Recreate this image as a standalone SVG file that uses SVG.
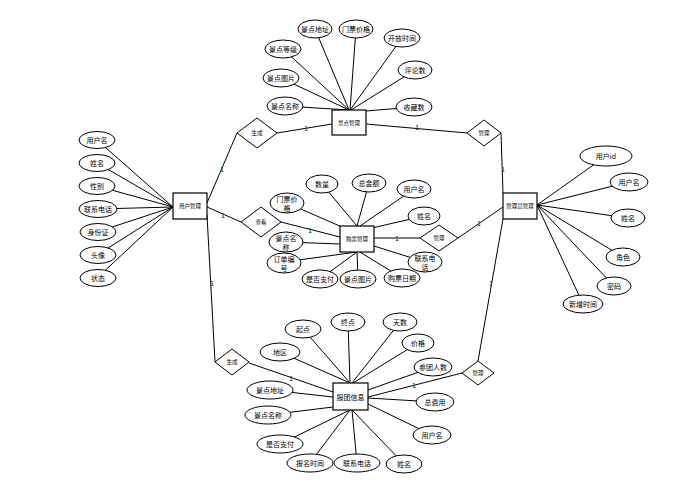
<svg xmlns="http://www.w3.org/2000/svg" width="698" height="486" viewBox="0 0 698 486">
<style>
.c line{stroke:#000;stroke-width:1;fill:none}
.e{fill:#fff;stroke:#000;stroke-width:1}
.r{fill:#fff;stroke:#000;stroke-width:1.2}
.d{fill:#fff;stroke:#000;stroke-width:1}
text{font-family:"Noto Sans CJK SC","Noto Sans",sans-serif;fill:#000;text-anchor:middle;dominant-baseline:central}
.t{font-size:7px}
.s{font-size:5.5px}
.m{font-size:6px;fill:#1f5a48;font-weight:bold}
</style>
<rect width="698" height="486" fill="#fff"/>
<g class="c" id="connectors">
<line x1="285" y1="106" x2="349" y2="110"/>
<line x1="281" y1="78" x2="349" y2="110"/>
<line x1="283" y1="49" x2="349" y2="110"/>
<line x1="315" y1="29" x2="349" y2="110"/>
<line x1="356" y1="29" x2="350" y2="110"/>
<line x1="402" y1="38" x2="350" y2="110"/>
<line x1="415" y1="70" x2="351" y2="110"/>
<line x1="414" y1="107" x2="366" y2="111"/>
<line x1="97" y1="140" x2="173" y2="207"/>
<line x1="97" y1="163" x2="173" y2="207"/>
<line x1="97" y1="186" x2="173" y2="207"/>
<line x1="97" y1="209" x2="173" y2="207"/>
<line x1="97" y1="232" x2="173" y2="207"/>
<line x1="97" y1="255" x2="173" y2="207"/>
<line x1="97" y1="278" x2="173" y2="207"/>
<line x1="537" y1="205" x2="606" y2="156"/>
<line x1="537" y1="205" x2="629" y2="182"/>
<line x1="537" y1="205" x2="628" y2="218"/>
<line x1="537" y1="205" x2="623" y2="257"/>
<line x1="537" y1="205" x2="614" y2="286"/>
<line x1="537" y1="205" x2="583" y2="304"/>
<line x1="322" y1="184" x2="357" y2="226"/>
<line x1="369" y1="183" x2="357" y2="226"/>
<line x1="414" y1="189" x2="360" y2="226"/>
<line x1="287" y1="203" x2="342" y2="227"/>
<line x1="424" y1="216" x2="372" y2="228"/>
<line x1="286" y1="242" x2="340" y2="244"/>
<line x1="284" y1="262" x2="357" y2="252"/>
<line x1="320" y1="279" x2="357" y2="252"/>
<line x1="358" y1="279" x2="357" y2="252"/>
<line x1="402" y1="278" x2="360" y2="252"/>
<line x1="425" y1="262" x2="374" y2="246"/>
<line x1="280" y1="352" x2="350" y2="383"/>
<line x1="303" y1="329" x2="350" y2="383"/>
<line x1="348" y1="322" x2="350" y2="383"/>
<line x1="400" y1="322" x2="352" y2="383"/>
<line x1="418" y1="343" x2="353" y2="383"/>
<line x1="433" y1="367" x2="368" y2="390"/>
<line x1="435" y1="402" x2="368" y2="398"/>
<line x1="432" y1="435" x2="368" y2="404"/>
<line x1="404" y1="464" x2="352" y2="410"/>
<line x1="357" y1="463" x2="352" y2="410"/>
<line x1="310" y1="463" x2="350" y2="410"/>
<line x1="280" y1="444" x2="350" y2="410"/>
<line x1="268" y1="415" x2="333" y2="407"/>
<line x1="270" y1="390" x2="333" y2="397"/>
<line x1="207" y1="203" x2="237" y2="133"/>
<line x1="277" y1="133" x2="332" y2="124"/>
<line x1="366" y1="124" x2="467" y2="133"/>
<line x1="501" y1="133" x2="503" y2="193"/>
<line x1="207" y1="207" x2="241" y2="222" stroke-width="1.5"/>
<line x1="281" y1="222" x2="340" y2="237"/>
<line x1="374" y1="238" x2="420" y2="238" stroke-width="1.5"/>
<line x1="458" y1="238" x2="503" y2="207"/>
<line x1="207" y1="215" x2="215" y2="362"/>
<line x1="249" y1="363" x2="333" y2="392"/>
<line x1="503" y1="219" x2="478" y2="361"/>
<line x1="462" y1="373" x2="368" y2="397"/>
</g>
<g id="marks">
<text class="m" x="306" y="128">1</text>
<text class="m" x="417" y="127">1</text>
<text class="m" x="503" y="169">1</text>
<text class="m" x="222" y="169">1</text>
<text class="m" x="223" y="215">1</text>
<text class="m" x="310" y="230">1</text>
<text class="m" x="397" y="238">1</text>
<text class="m" x="479" y="223">1</text>
<text class="m" x="212" y="283">1</text>
<text class="m" x="291" y="378">1</text>
<text class="m" x="491" y="283">1</text>
<text class="m" x="414" y="385">1</text>
</g>
<g id="jingdian"><rect class="r" x="332" y="110" width="34" height="25"/><text class="s" x="349" y="122.5">景点管理</text></g>
<g id="yonghu"><rect class="r" x="173" y="193" width="34" height="26"/><text class="s" x="190" y="206">用户管理</text></g>
<g id="goupiao"><rect class="r" x="340" y="226" width="34" height="26"/><text class="s" x="357" y="239">购票管理</text></g>
<g id="guanliyuan"><rect class="r" x="503" y="193" width="34" height="26"/><text class="s" x="520" y="206">管理员管理</text></g>
<g id="baotuan"><rect class="r" x="333" y="383" width="35" height="27"/><text class="t" x="350.5" y="396.5">报团信息</text></g>
<g id="rel-shengcheng1"><polygon class="d" points="237,133 257,118 277,133 257,148"/><text class="s" x="257" y="133">生成</text></g>
<g id="rel-chakan"><polygon class="d" points="241,222 261,207 281,222 261,237"/><text class="s" x="261" y="222">查看</text></g>
<g id="rel-shengcheng2"><polygon class="d" points="215,362 232,349 249,362 232,375"/><text class="s" x="232" y="362">生成</text></g>
<g id="rel-guanli1"><polygon class="d" points="467,133 484,120 501,133 484,146"/><text class="s" x="484" y="133">管理</text></g>
<g id="rel-guanli2"><polygon class="d" points="420,238 439,225 458,238 439,251"/><text class="s" x="439" y="238">管理</text></g>
<g id="rel-guanli3"><polygon class="d" points="462,373 478,361 494,373 478,385"/><text class="s" x="478" y="373">管理</text></g>
<g id="a-jd-mc"><ellipse class="e" cx="285" cy="106" rx="18" ry="9"/><text class="t" x="285" y="106">景点名称</text></g>
<g id="a-jd-tp"><ellipse class="e" cx="281" cy="78" rx="18" ry="9"/><text class="t" x="281" y="78">景点图片</text></g>
<g id="a-jd-dj"><ellipse class="e" cx="283" cy="49" rx="18" ry="9"/><text class="t" x="283" y="49">景点等级</text></g>
<g id="a-jd-dz"><ellipse class="e" cx="315" cy="29" rx="17" ry="9"/><text class="t" x="315" y="29">景点地址</text></g>
<g id="a-jd-jg"><ellipse class="e" cx="356" cy="29" rx="17" ry="9"/><text class="t" x="356" y="29">门票价格</text></g>
<g id="a-jd-sj"><ellipse class="e" cx="402" cy="38" rx="18" ry="9"/><text class="t" x="402" y="38">开放时间</text></g>
<g id="a-jd-pl"><ellipse class="e" cx="415" cy="70" rx="17" ry="9"/><text class="t" x="415" y="70">评论数</text></g>
<g id="a-jd-sc"><ellipse class="e" cx="414" cy="107" rx="18" ry="9"/><text class="t" x="414" y="107">收藏数</text></g>
<g id="a-yh-yhm"><ellipse class="e" cx="97" cy="140" rx="18" ry="8.5"/><text class="t" x="97" y="140">用户名</text></g>
<g id="a-yh-xm"><ellipse class="e" cx="97" cy="163" rx="18" ry="8.5"/><text class="t" x="97" y="163">姓名</text></g>
<g id="a-yh-xb"><ellipse class="e" cx="97" cy="186" rx="18" ry="8.5"/><text class="t" x="97" y="186">性别</text></g>
<g id="a-yh-dh"><ellipse class="e" cx="98" cy="209" rx="19" ry="8.5"/><text class="t" x="98" y="209">联系电话</text></g>
<g id="a-yh-sfz"><ellipse class="e" cx="98" cy="232" rx="18" ry="8.5"/><text class="t" x="98" y="232">身份证</text></g>
<g id="a-yh-tx"><ellipse class="e" cx="98" cy="255" rx="18" ry="8.5"/><text class="t" x="98" y="255">头像</text></g>
<g id="a-yh-zt"><ellipse class="e" cx="98" cy="278" rx="18" ry="8.5"/><text class="t" x="98" y="278">状态</text></g>
<g id="a-gl-id"><ellipse class="e" cx="606" cy="156" rx="26" ry="10"/><text class="t" x="606" y="156">用户id</text></g>
<g id="a-gl-yhm"><ellipse class="e" cx="629" cy="182" rx="19" ry="9"/><text class="t" x="629" y="182">用户名</text></g>
<g id="a-gl-xm"><ellipse class="e" cx="628" cy="218" rx="17" ry="9"/><text class="t" x="628" y="218">姓名</text></g>
<g id="a-gl-js"><ellipse class="e" cx="623" cy="257" rx="17" ry="9"/><text class="t" x="623" y="257">角色</text></g>
<g id="a-gl-mm"><ellipse class="e" cx="614" cy="286" rx="17" ry="9"/><text class="t" x="614" y="286">密码</text></g>
<g id="a-gl-sj"><ellipse class="e" cx="583" cy="304" rx="20" ry="9"/><text class="t" x="583" y="304">新增时间</text></g>
<g id="a-gp-sl"><ellipse class="e" cx="322" cy="184" rx="16" ry="9"/><text class="t" x="322" y="184">数量</text></g>
<g id="a-gp-zje"><ellipse class="e" cx="369" cy="183" rx="17" ry="9"/><text class="t" x="369" y="183">总金额</text></g>
<g id="a-gp-yhm"><ellipse class="e" cx="414" cy="189" rx="17" ry="9"/><text class="t" x="414" y="189">用户名</text></g>
<g id="a-gp-xm"><ellipse class="e" cx="424" cy="216" rx="16" ry="9"/><text class="t" x="424" y="216">姓名</text></g>
<g id="a-gp-jg"><ellipse class="e" cx="287" cy="203" rx="17" ry="10"/><text class="t" x="287" y="199">门票价</text><text class="t" x="287" y="207.5">格</text></g>
<g id="a-gp-mc"><ellipse class="e" cx="286" cy="242" rx="17" ry="10"/><text class="t" x="286" y="238">景点名</text><text class="t" x="286" y="246.5">称</text></g>
<g id="a-gp-bh"><ellipse class="e" cx="284" cy="263" rx="17" ry="10"/><text class="t" x="284" y="259">订单编</text><text class="t" x="284" y="267.5">号</text></g>
<g id="a-gp-zf"><ellipse class="e" cx="320" cy="279" rx="18" ry="9"/><text class="t" x="320" y="279">是否支付</text></g>
<g id="a-gp-tp"><ellipse class="e" cx="358" cy="279" rx="18" ry="9"/><text class="t" x="358" y="279">景点图片</text></g>
<g id="a-gp-rq"><ellipse class="e" cx="402" cy="278" rx="18" ry="9"/><text class="t" x="402" y="278">购票日期</text></g>
<g id="a-gp-dh"><ellipse class="e" cx="425" cy="262" rx="17" ry="10"/><text class="t" x="425" y="258">联系电</text><text class="t" x="425" y="266.5">话</text></g>
<g id="a-bt-dq"><ellipse class="e" cx="280" cy="352" rx="20" ry="9"/><text class="t" x="280" y="352">地区</text></g>
<g id="a-bt-qd"><ellipse class="e" cx="303" cy="329" rx="18" ry="9"/><text class="t" x="303" y="329">起点</text></g>
<g id="a-bt-zd"><ellipse class="e" cx="348" cy="322" rx="17" ry="9"/><text class="t" x="348" y="322">终点</text></g>
<g id="a-bt-ts"><ellipse class="e" cx="400" cy="322" rx="17" ry="9"/><text class="t" x="400" y="322">天数</text></g>
<g id="a-bt-jg"><ellipse class="e" cx="418" cy="343" rx="16" ry="9"/><text class="t" x="418" y="343">价格</text></g>
<g id="a-bt-rs"><ellipse class="e" cx="433" cy="367" rx="19" ry="9"/><text class="t" x="433" y="367">参团人数</text></g>
<g id="a-bt-fy"><ellipse class="e" cx="435" cy="402" rx="19" ry="9"/><text class="t" x="435" y="402">总费用</text></g>
<g id="a-bt-yhm"><ellipse class="e" cx="432" cy="435" rx="19" ry="9"/><text class="t" x="432" y="435">用户名</text></g>
<g id="a-bt-xm"><ellipse class="e" cx="404" cy="464" rx="18" ry="9"/><text class="t" x="404" y="464">姓名</text></g>
<g id="a-bt-dh"><ellipse class="e" cx="357" cy="463" rx="23" ry="9"/><text class="t" x="357" y="463">联系电话</text></g>
<g id="a-bt-sj"><ellipse class="e" cx="310" cy="463" rx="23" ry="9"/><text class="t" x="310" y="463">报名时间</text></g>
<g id="a-bt-zf"><ellipse class="e" cx="280" cy="444" rx="23" ry="9"/><text class="t" x="280" y="444">是否支付</text></g>
<g id="a-bt-mc"><ellipse class="e" cx="268" cy="415" rx="23" ry="9"/><text class="t" x="268" y="415">景点名称</text></g>
<g id="a-bt-dz"><ellipse class="e" cx="270" cy="390" rx="23" ry="9"/><text class="t" x="270" y="390">景点地址</text></g>
</svg>
